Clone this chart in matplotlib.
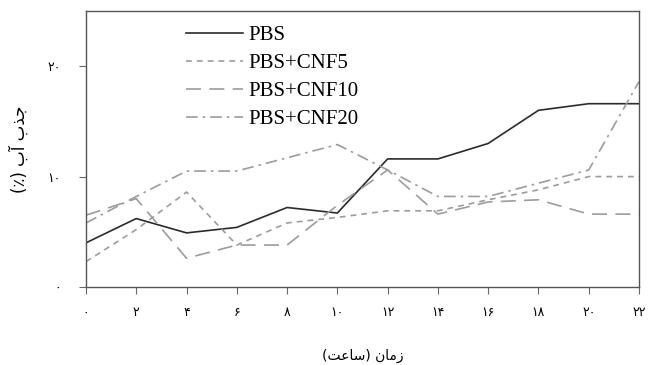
import matplotlib
matplotlib.use("Agg")
import matplotlib.pyplot as plt

# زمان نمونه‌برداری (ساعت)
hours = [0, 2, 4, 6, 8, 10, 12, 14, 16, 18, 20, 22]

# درصد جذب آب برای هر نمونه
pbs = [4.0, 6.2, 4.9, 5.4, 7.2, 6.7, 11.6, 11.6, 13.0, 16.0, 16.6, 16.6]
pbs_cnf5 = [2.3, 5.2, 8.6, 3.8, 5.8, 6.3, 6.9, 6.9, 7.9, 8.8, 10.0, 10.0]
pbs_cnf10 = [6.5, 8.0, 2.6, 3.8, 3.8, 7.4, 10.6, 6.6, 7.7, 7.9, 6.6, 6.6]
pbs_cnf20 = [5.8, 8.2, 10.5, 10.5, 11.7, 12.9, 10.6, 8.2, 8.2, 9.4, 10.6, 18.6]

labels = ["PBS", "PBS+CNF5", "PBS+CNF10", "PBS+CNF20"]

fa_digits = "۰۱۲۳۴۵۶۷۸۹"
def fa_num(n):
    return "".join(fa_digits[int(c)] for c in str(n))

x_ticks = hours
y_ticks = [0, 10, 20]

# برچسب‌ها با حروف شکل‌یافته و ترتیب چپ‌به‌راست برای رسم
x_title = "(" + "\uFE96\uFECB\uFE8E\uFEB3" + ") " + "\uFEE5\uFE8E\uFEE3\uFEAF"
y_title = "(\u066A) " + "\uFE8F\uFE81" + " " + "\uFE8F\uFEAC\uFE9F"

fig = plt.figure(figsize=(6.49, 3.65), dpi=100)
ax = fig.add_axes([0.1325, 0.2137, 0.8521, 0.7563])

dark = "#2b2b2b"
grey = "#9c9c9c"
ax.plot(hours, pbs, color=dark, lw=1.2, label=labels[0])
ax.plot(hours, pbs_cnf5, color=grey, lw=1.2, dashes=(3.5, 3), label=labels[1])
ax.plot(hours, pbs_cnf10, color=grey, lw=1.2, dashes=(9, 5), label=labels[2])
ax.plot(hours, pbs_cnf20, color=grey, lw=1.2, dashes=(7, 3, 1.5, 3), label=labels[3])

ax.set_xlim(0, 22)
ax.set_ylim(0, 25)
ax.set_xticks(x_ticks)
ax.set_xticklabels([fa_num(v) for v in x_ticks], fontsize=9, family="DejaVu Sans")
ax.set_yticks(y_ticks)
ax.set_yticklabels([fa_num(v) for v in y_ticks], fontsize=9, family="DejaVu Sans")
ax.tick_params(axis="x", direction="out", length=5, pad=9, color="#666666")
ax.tick_params(axis="y", direction="out", length=5, pad=13, color="#666666")
for sp in ax.spines.values():
    sp.set_color("#555555")
    sp.set_linewidth(1.0)

ax.set_xlabel(x_title, fontsize=10, family="DejaVu Sans", labelpad=21)
ax.set_ylabel(y_title, fontsize=12, family="DejaVu Sans", labelpad=14)

leg = ax.legend(loc="upper left", bbox_to_anchor=(0.147, 1.015), frameon=False,
                handlelength=2.75, handletextpad=0.25, labelspacing=0.4,
                prop={"family": "Liberation Serif", "size": 15})

fig.savefig("out.png", dpi=100)
